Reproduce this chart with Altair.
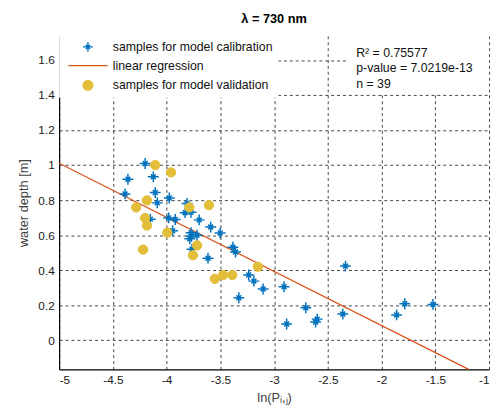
import altair as alt
import pandas as pd

# ---- data ----
cal_x = [-4.20, -4.36, -4.124, -4.387, -4.106, -3.975, -4.087, -3.81, -3.828, -3.773,
         -4.152, -3.981, -3.92, -3.697, -3.944, -3.59, -3.502, -3.773, -3.718, -3.785,
         -3.764, -3.615, -3.383, -3.359, -3.236, -3.188, -3.102, -3.328, -2.336, -2.907,
         -2.705, -2.883, -2.599, -2.614, -2.361, -1.86, -1.784, -1.522, -3.77]
cal_y = [1.009, 0.919, 0.933, 0.835, 0.843, 0.812, 0.784, 0.781, 0.728, 0.730,
         0.691, 0.698, 0.689, 0.687, 0.625, 0.646, 0.612, 0.614, 0.599, 0.579,
         0.519, 0.468, 0.531, 0.503, 0.372, 0.337, 0.292, 0.242, 0.423, 0.305,
         0.185, 0.092, 0.120, 0.103, 0.149, 0.144, 0.208, 0.204, 0.595]
val_x = [-4.106, -3.959, -4.183, -4.283, -3.789, -3.606, -4.20, -4.183, -3.993, -3.716,
         -3.755, -4.219, -3.551, -3.474, -3.389, -3.151]
val_y = [1.0, 0.958, 0.798, 0.758, 0.758, 0.771, 0.697, 0.655, 0.614, 0.541,
         0.485, 0.517, 0.35, 0.372, 0.372, 0.419]
line_x = [-5.0, -1.19]
line_y = [1.01, -0.167]

series_names = ["samples for model calibration", "linear regression", "samples for model validation"]
stats_lines = ["R² = 0.75577", "p-value = 7.0219e-13", "n = 39"]
title_text = "λ = 730 nm"
x_title = "ln(Pᵢ,ⱼ)"
y_title = "water depth [m]"
x_ticks = [-5, -4.5, -4, -3.5, -3, -2.5, -2, -1.5, -1]
y_ticks = [0, 0.2, 0.4, 0.6, 0.8, 1, 1.2, 1.4, 1.6]

BLUE = "#0072BD"
ORANGE = "#D95319"
YELLOW = "#E3BE3A"
FONT = "Liberation Sans"

star_path = "M-1,0L1,0M0,-1L0,1M-0.45,-0.45L0.45,0.45M-0.45,0.45L0.45,-0.45"
line_path = "M-4,0L4,0"

cal_df = pd.DataFrame({"x": cal_x, "y": cal_y, "series": series_names[0]})
val_df = pd.DataFrame({"x": val_x, "y": val_y, "series": series_names[2]})
line_df = pd.DataFrame({"x": line_x, "y": line_y, "series": series_names[1]})

xs = alt.Scale(domain=[-5, -1], nice=False, zero=False)
ys = alt.Scale(domain=[-0.167, 1.738], nice=False, zero=False)

xax = alt.Axis(values=x_ticks, title=x_title, labelExpr="toString(datum.value)",
               grid=True, ticks=False, domain=True)
yax = alt.Axis(values=y_ticks, title=y_title, labelExpr="toString(datum.value)",
               grid=True, ticks=False, domain=True)

legend = alt.Legend(title=None, orient="top-left", offset=0, padding=5,
                    fillColor="white", labelFont=FONT, labelFontSize=12.5,
                    labelColor="#111111", rowPadding=5, symbolSize=100,
                    symbolStrokeWidth=1.3, symbolOffset=18, labelOffset=19,
                    labelLimit=400)

stroke_enc = alt.Stroke("series:N", scale=alt.Scale(domain=series_names, range=[BLUE, ORANGE, YELLOW]), legend=legend)
fill_enc = alt.Fill("series:N", scale=alt.Scale(domain=series_names, range=["transparent", "transparent", YELLOW]), legend=legend)
shape_enc = alt.Shape("series:N", scale=alt.Scale(domain=series_names, range=[star_path, line_path, "circle"]), legend=legend)

line = alt.Chart(line_df).mark_line(strokeWidth=1.2).encode(
    x=alt.X("x:Q", scale=xs, axis=xax),
    y=alt.Y("y:Q", scale=ys, axis=yax),
    stroke=stroke_enc,
)

cal = alt.Chart(cal_df).mark_point(size=121, strokeWidth=1.5, opacity=1).encode(
    x=alt.X("x:Q", scale=xs), y=alt.Y("y:Q", scale=ys),
    stroke=stroke_enc, fill=fill_enc, shape=shape_enc,
)

val = alt.Chart(val_df).mark_point(size=90, strokeWidth=1, opacity=1, fillOpacity=1).encode(
    x=alt.X("x:Q", scale=xs), y=alt.Y("y:Q", scale=ys),
    stroke=stroke_enc, fill=fill_enc, shape=shape_enc,
)

box_df = pd.DataFrame({"t": ["\n".join(stats_lines)]})
box = alt.Chart(box_df).mark_rect(fill="white", stroke=None).encode(
    x=alt.value(293), x2=alt.value(437), y=alt.value(0), y2=alt.value(59))
stats = alt.Chart(box_df).mark_text(align="left", baseline="top", lineBreak="\n",
                                    lineHeight=16, font=FONT, fontSize=12.5,
                                    color="#111111").encode(
    x=alt.value(302), y=alt.value(11), text="t:N")

chart = alt.layer(line, cal, val, box, stats).properties(
    width=437, height=339,
    title=alt.TitleParams(title_text, font=FONT, fontSize=13, fontWeight="bold",
                          anchor="middle", offset=10, color="#000000"),
    padding={"left": 52, "top": 25, "right": 3, "bottom": 40},
    autosize=alt.AutoSizeParams(type="none"),
).configure_view(stroke=None).configure_axis(
    labelFont=FONT, labelFontSize=12, labelColor="#1a1a1a",
    titleFont=FONT, titleFontSize=13, titleFontWeight="normal", titleColor="#404040",
    domainColor="#000000", domainWidth=1.2,
    gridColor="#222222", gridDash=[3, 3], gridOpacity=0.85, gridWidth=1,
    labelPadding=5, titlePadding=7,
)

chart.save("out.html", embed_options={"renderer": "svg", "actions": False})
